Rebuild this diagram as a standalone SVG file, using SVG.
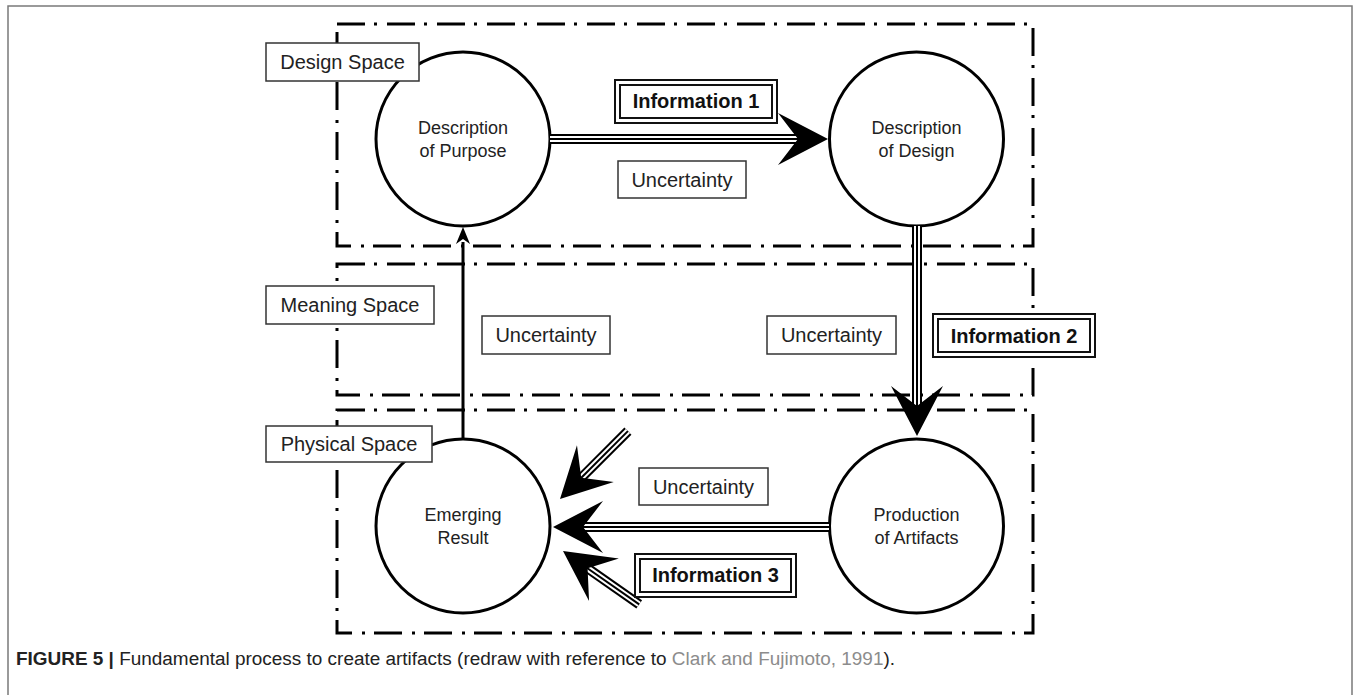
<svg xmlns="http://www.w3.org/2000/svg" xmlns:xlink="http://www.w3.org/1999/xlink" width="1354" height="695" viewBox="0 0 1354 695">
<style>
.frame{fill:none;stroke:#7a7a7a;stroke-width:1.5}
.box{fill:none;stroke:#000;stroke-width:3;stroke-dasharray:28 9 3 10}
.node circle{fill:#fff;stroke:#000;stroke-width:3}
.nt{font-family:"Liberation Sans",Arial,sans-serif;font-size:18px;fill:#222;text-anchor:middle}
.lbl rect{fill:#fff;stroke:#333;stroke-width:1.5}
.lt{font-family:"Liberation Sans",Arial,sans-serif;font-size:20px;fill:#222;text-anchor:middle}
.info rect{fill:#fff;stroke:#111;stroke-width:2}
.it{font-family:"Liberation Sans",Arial,sans-serif;font-size:20px;font-weight:bold;fill:#111;text-anchor:middle}
.w1{stroke:#000;stroke-width:10;fill:none}
.w2{stroke:#fff;stroke-width:6;fill:none}
.w3{stroke:#000;stroke-width:2;fill:none}
.single{stroke:#000;stroke-width:3;fill:none}
.cap{font-family:"Liberation Sans",Arial,sans-serif;font-size:18px;fill:#222}
</style>
<defs>
<path id="ah" d="M0,0 L-50,-26 L-30,0 L-50,26 Z" fill="#000"/>
<path id="ahs" d="M0,0 L-17,-7 L-12,0 L-17,7 Z" fill="#000"/>
</defs>
<rect width="1354" height="695" fill="#fff"/>
<path class="frame" d="M8,695 V6 H1352 V695"/>

<g id="spaces">
<rect class="box" x="337" y="24" width="696" height="222"/>
<rect class="box" x="337" y="264" width="696" height="131"/>
<rect class="box" x="337" y="410" width="696" height="223"/>
</g>

<g id="node-purpose" class="node">
<circle cx="463" cy="139" r="87"/>
<text class="nt" x="463" y="134">Description</text>
<text class="nt" x="463" y="157">of Purpose</text>
</g>
<g id="node-design" class="node">
<circle cx="916.5" cy="139" r="87"/>
<text class="nt" x="916.5" y="134">Description</text>
<text class="nt" x="916.5" y="157">of Design</text>
</g>
<g id="node-emerging" class="node">
<circle cx="463" cy="526" r="87"/>
<text class="nt" x="463" y="521">Emerging</text>
<text class="nt" x="463" y="544">Result</text>
</g>
<g id="node-production" class="node">
<circle cx="916.5" cy="526" r="87"/>
<text class="nt" x="916.5" y="521">Production</text>
<text class="nt" x="916.5" y="544">of Artifacts</text>
</g>

<g id="connectors">
<path class="w1" d="M550,139 H802"/><path class="w2" d="M550,139 H802"/><path class="w3" d="M550,139 H802"/>
<use xlink:href="#ah" transform="translate(828,139)"/>
<path class="w1" d="M917,226 V409"/><path class="w2" d="M917,226 V409"/><path class="w3" d="M917,226 V409"/>
<use xlink:href="#ah" transform="translate(917,436) rotate(90)"/>
<path class="w1" d="M829,527 H581"/><path class="w2" d="M829,527 H581"/><path class="w3" d="M829,527 H581"/>
<use xlink:href="#ah" transform="translate(553,527) rotate(180)"/>
<path class="w1" d="M627.9,431.1 L579.8,479.2"/><path class="w2" d="M627.9,431.1 L579.8,479.2"/><path class="w3" d="M627.9,431.1 L579.8,479.2"/>
<use xlink:href="#ah" transform="translate(560,499) rotate(135)"/>
<path class="w1" d="M639.2,604.4 L586,567.2"/><path class="w2" d="M639.2,604.4 L586,567.2"/><path class="w3" d="M639.2,604.4 L586,567.2"/>
<use xlink:href="#ah" transform="translate(563,551) rotate(-145)"/>
<path class="single" d="M463,439 V242"/>
<use xlink:href="#ahs" transform="translate(463,227) rotate(-90)"/>
</g>

<g id="label-design-space" class="lbl"><rect x="266" y="43" width="153" height="38"/><text class="lt" x="342.5" y="69">Design Space</text></g>
<g id="label-meaning-space" class="lbl"><rect x="266" y="286" width="168" height="38"/><text class="lt" x="350" y="312">Meaning Space</text></g>
<g id="label-physical-space" class="lbl"><rect x="266" y="426" width="166" height="36"/><text class="lt" x="349" y="451">Physical Space</text></g>

<g id="uncertainty-1" class="lbl"><rect x="618" y="161" width="128" height="37"/><text class="lt" x="682" y="187">Uncertainty</text></g>
<g id="uncertainty-2" class="lbl"><rect x="482" y="316" width="128" height="38"/><text class="lt" x="546" y="342">Uncertainty</text></g>
<g id="uncertainty-3" class="lbl"><rect x="767" y="316" width="129" height="38"/><text class="lt" x="831.5" y="342">Uncertainty</text></g>
<g id="uncertainty-4" class="lbl"><rect x="639" y="468" width="129" height="37"/><text class="lt" x="703.5" y="494">Uncertainty</text></g>

<g id="information-1" class="info"><rect x="615" y="80" width="162" height="43"/><rect x="620" y="85" width="152" height="33"/><text class="it" x="696" y="108">Information 1</text></g>
<g id="information-2" class="info"><rect x="933" y="314" width="162" height="43"/><rect x="938" y="319" width="152" height="33"/><text class="it" x="1014" y="343">Information 2</text></g>
<g id="information-3" class="info"><rect x="635" y="554" width="161" height="43"/><rect x="640" y="559" width="151" height="33"/><text class="it" x="715.5" y="582">Information 3</text></g>

<text class="cap" x="16" y="665" textLength="879" lengthAdjust="spacingAndGlyphs"><tspan font-weight="bold">FIGURE 5 | </tspan>Fundamental process to create artifacts (redraw with reference to <tspan fill="#8c8c8c">Clark and Fujimoto, 1991</tspan>).</text>
</svg>
